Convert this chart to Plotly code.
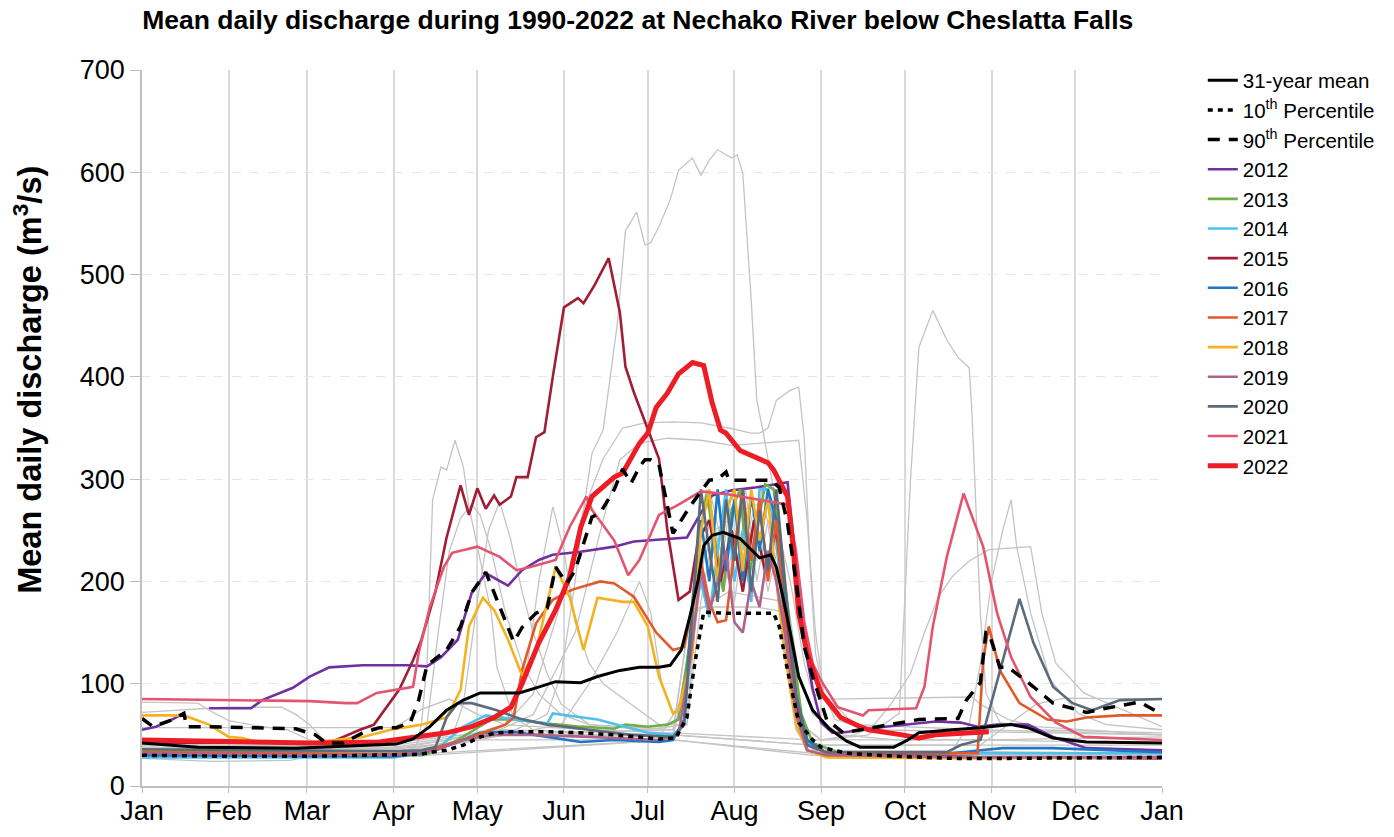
import plotly.graph_objects as go

MONTH_LABELS = ["Jan", "Feb", "Mar", "Apr", "May", "Jun", "Jul", "Aug", "Sep", "Oct", "Nov", "Dec", "Jan"]
MONTH_START_DAY = [0, 31, 59, 90, 120, 151, 181, 212, 243, 273, 304, 334, 365]

# (day of year, discharge m3/s)
MEAN_31YR = [(0,42),(20,38),(55,37),(85,40),(91,41),(97,46),(100,52),(103,58),(109,74),(115,84),(121,91),(131,91),(135,91),(141,96),(148,102),(157,101),(163,107),(171,113),(178,116),(185,116),(189,118),(193,133),(196,165),(199,201),(201,235),(204,245),(208,248),(214,242),(221,223),(225,226),(227,214),(229,189),(232,150),(235,107),(240,74),(246,56),(252,44),(257,38),(269,38),(274,45),(278,52),(290,55),(300,57),(311,60),(317,57),(326,47),(338,43),(365,42)]
P10 = [(0,30),(30,29),(60,29),(90,30),(100,31),(103,33),(109,35),(115,40),(121,48),(127,52),(133,53),(145,53),(157,52),(169,50),(185,46),(191,47),(195,67),(198,123),(201,170),(208,169),(226,169),(228,156),(231,113),(235,62),(240,45),(243,38),(252,32),(270,29),(290,27),(310,27),(340,28),(365,28)]
P90 = [(0,66),(4,58),(10,64),(15,71),(16,58),(23,58),(55,56),(62,50),(66,42),(72,42),(79,52),(85,57),(91,57),(96,62),(99,84),(102,118),(109,133),(114,156),(118,189),(123,209),(126,189),(131,156),(133,141),(136,155),(141,169),(145,174),(148,214),(152,198),(155,211),(157,228),(161,263),(164,267),(169,290),(172,310),(175,296),(178,312),(180,319),(182,319),(185,314),(190,247),(196,273),(203,299),(206,300),(209,307),(210,299),(214,299),(225,299),(228,292),(231,257),(234,201),(237,136),(240,107),(245,65),(251,52),(264,58),(278,65),(292,66),(295,84),(300,101),(302,150),(303,150),(307,116),(310,116),(319,97),(326,81),(338,72),(345,76),(357,82),(365,70)]

Y2012 = [(0,55),(5,58),(10,64),(15,71),(None,None),(24,76),(39,76),(43,84),(54,96),(60,107),(67,116),(79,118),(95,118),(102,117),(107,126),(113,143),(118,189),(123,208),(131,196),(136,211),(142,221),(147,226),(157,229),(169,234),(176,239),(195,243),(200,267),(204,284),(211,289),(220,292),(231,297),(234,220),(237,140),(240,95),(243,62),(247,52),(250,52),(266,58),(284,63),(293,62),(299,58),(306,60),(317,60),(326,48),(338,37),(365,35)]
Y2013 = [(0,35),(30,34),(60,32),(90,30),(100,30),(104,33),(113,45),(125,65),(133,65),(145,61),(157,58),(169,56),(173,60),(181,58),(188,60),(192,65),(196,140),(199,230),(202,285),(205,240),(208,190),(211,270),(214,290),(217,200),(220,250),(223,295),(226,290),(229,230),(232,150),(236,70),(240,42),(250,32),(300,28),(365,28)]
Y2014 = [(0,28),(60,28),(90,28),(105,35),(115,58),(123,69),(131,66),(145,61),(147,71),(152,69),(163,65),(181,52),(190,50),(194,60),(197,160),(200,200),(203,165),(206,230),(209,290),(212,200),(215,250),(218,180),(221,290),(224,290),(227,240),(230,150),(234,70),(238,42),(245,32),(300,32),(365,32)]
Y2015 = [(0,42),(30,42),(60,42),(67,42),(78,55),(83,60),(92,94),(97,123),(100,143),(105,190),(109,243),(114,294),(117,265),(120,291),(123,271),(126,284),(128,275),(132,283),(134,302),(138,302),(141,341),(144,346),(147,400),(151,468),(156,477),(158,472),(162,490),(167,516),(171,463),(173,410),(176,385),(181,348),(185,320),(188,250),(192,182),(196,190),(199,240),(203,260),(207,200),(211,250),(215,190),(219,260),(223,210),(227,250),(230,180),(234,80),(238,45),(245,32),(300,28),(365,27)]
Y2016 = [(0,30),(60,29),(90,29),(100,32),(110,40),(121,52),(133,53),(145,48),(157,43),(169,45),(185,43),(190,45),(194,65),(197,180),(200,260),(203,200),(206,290),(209,210),(212,280),(215,200),(218,285),(221,230),(224,290),(227,260),(230,190),(234,90),(238,45),(245,32),(290,32),(300,35),(308,37),(326,37),(365,33)]
Y2017 = [(0,33),(60,32),(90,31),(100,34),(115,45),(125,55),(130,60),(133,67),(136,113),(141,159),(147,182),(154,192),(164,200),(169,198),(176,185),(184,150),(190,133),(194,136),(197,175),(200,220),(203,180),(206,160),(209,162),(212,230),(215,290),(218,220),(221,280),(224,200),(227,260),(230,160),(234,70),(238,40),(245,32),(299,32),(301,123),(303,156),(307,113),(314,81),(324,65),(331,63),(338,67),(350,69),(365,69)]
Y2018 = [(0,69),(15,69),(24,60),(31,48),(36,47),(40,44),(60,42),(79,48),(89,55),(100,60),(109,67),(114,94),(117,156),(122,184),(126,172),(131,143),(136,108),(141,133),(145,179),(148,214),(153,185),(158,133),(163,184),(172,180),(176,180),(181,156),(185,107),(190,71),(192,74),(197,130),(200,250),(203,290),(206,200),(209,270),(212,290),(215,210),(218,290),(221,240),(224,280),(227,200),(230,130),(234,60),(238,35),(245,28),(300,27),(365,28)]
Y2019 = [(0,32),(60,31),(90,30),(105,35),(115,45),(125,50),(140,50),(160,48),(185,45),(192,50),(196,120),(200,210),(203,170),(206,200),(209,230),(212,160),(215,150),(218,200),(221,175),(224,230),(227,200),(230,150),(234,70),(238,35),(245,30),(300,28),(365,28)]
Y2020 = [(0,36),(60,35),(90,34),(100,35),(105,38),(109,67),(113,81),(118,81),(127,74),(135,66),(145,60),(160,55),(175,50),(190,48),(194,60),(197,170),(200,290),(203,230),(206,180),(209,280),(212,220),(215,290),(218,190),(221,270),(224,210),(227,290),(230,200),(234,90),(238,40),(245,33),(288,33),(293,40),(300,45),(302,62),(308,123),(314,183),(319,140),(326,97),(333,81),(340,74),(350,84),(365,85)]
Y2021 = [(0,85),(30,84),(60,83),(73,81),(77,81),(84,91),(97,97),(99,130),(103,175),(108,214),(111,228),(120,234),(128,224),(134,211),(139,214),(148,221),(153,253),(159,283),(161,270),(169,240),(174,206),(178,221),(185,265),(192,275),(200,288),(210,285),(220,280),(231,275),(234,230),(237,160),(240,120),(243,103),(249,77),(258,69),(260,74),(277,76),(280,97),(283,156),(288,224),(294,286),(301,234),(306,169),(311,126),(318,87),(327,62),(337,48),(365,45)]
Y2022 = [(0,45),(30,43),(60,42),(85,43),(99,48),(109,52),(118,58),(126,67),(132,77),(136,100),(142,140),(148,172),(153,204),(157,253),(161,283),(165,292),(169,302),(172,306),(178,335),(181,345),(184,370),(188,384),(192,403),(197,414),(201,411),(204,375),(207,348),(209,345),(214,328),(224,316),(226,309),(231,283),(233,234),(235,169),(238,130),(243,91),(250,67),(257,58),(260,55),(272,50),(278,47),(284,50),(294,52),(303,53)]

# historical years (grey)
G1 = [(0,35),(60,33),(90,33),(110,40),(130,50),(145,70),(150,110),(155,200),(158,270),(161,325),(165,348),(170,450),(173,543),(177,561),(180,529),(182,531),(185,547),(189,573),(192,602),(197,614),(200,597),(203,612),(206,622),(211,614),(213,617),(215,599),(218,475),(220,377),(222,350),(226,290),(230,200),(235,110),(240,70),(250,50),(270,45),(300,45),(365,42)]
G2 = [(0,40),(90,38),(110,45),(130,60),(140,90),(150,180),(158,270),(165,320),(172,350),(180,355),(190,356),(200,355),(210,350),(218,345),(221,345),(224,350),(227,377),(232,387),(235,390),(237,340),(239,220),(241,130),(244,90),(255,60),(300,55),(365,50)]
G3 = [(0,38),(90,36),(120,45),(140,70),(155,150),(165,260),(171,319),(178,335),(188,340),(200,338),(211,333),(225,336),(235,338),(238,260),(241,150),(244,90),(248,65),(260,55),(365,50)]
G4 = [(0,38),(60,36),(98,38),(100,60),(102,120),(104,280),(107,312),(109,309),(112,338),(115,312),(117,273),(121,221),(125,169),(127,116),(133,67),(140,55),(160,50),(185,48),(195,90),(200,200),(204,280),(208,230),(212,180),(216,260),(220,220),(224,280),(228,260),(232,150),(236,60),(242,35),(300,32),(365,30)]
G5 = [(0,30),(60,30),(95,32),(98,40),(102,60),(106,150),(110,230),(114,262),(118,275),(121,265),(125,230),(130,170),(136,120),(142,90),(150,70),(160,60),(180,55),(195,60),(200,180),(204,240),(208,200),(212,270),(216,210),(220,250),(224,190),(228,240),(232,130),(236,55),(242,32),(365,30)]
G6 = [(0,33),(90,33),(110,40),(115,80),(120,180),(124,250),(128,278),(132,240),(136,190),(140,150),(145,110),(150,80),(160,60),(190,55),(196,100),(200,220),(204,270),(208,190),(212,240),(216,290),(220,200),(224,260),(228,220),(232,120),(236,50),(242,30),(365,30)]
G7 = [(0,36),(90,36),(120,45),(130,60),(138,120),(142,200),(147,273),(151,230),(155,160),(160,120),(165,100),(175,80),(185,60),(195,60),(199,200),(203,260),(207,210),(211,285),(215,230),(219,270),(223,200),(227,275),(231,170),(235,70),(240,35),(365,32)]
G8 = [(0,32),(90,32),(130,50),(150,60),(160,100),(170,150),(178,200),(182,170),(186,100),(190,70),(194,90),(198,220),(202,290),(206,240),(210,200),(214,280),(218,240),(222,290),(226,220),(230,130),(234,55),(240,30),(365,30)]
G9 = [(0,34),(90,34),(130,50),(190,50),(196,170),(200,175),(220,175),(230,170),(236,60),(243,45),(260,50),(271,71),(275,299),(278,429),(283,465),(288,436),(292,419),(296,409),(297,365),(300,169),(302,91),(307,62),(320,55),(365,52)]
G10 = [(0,30),(90,30),(190,45),(198,170),(210,190),(230,180),(236,60),(243,45),(255,50),(262,60),(268,80),(275,110),(280,150),(285,185),(290,205),(296,220),(303,231),(318,234),(322,169),(327,120),(337,91),(365,58)]
G11 = [(0,28),(90,28),(190,45),(240,32),(290,35),(296,60),(300,120),(304,200),(308,250),(311,280),(313,234),(318,169),(325,104),(335,71),(345,60),(365,55)]
G12 = [(0,40),(30,39),(90,40),(120,50),(190,55),(198,200),(205,250),(215,270),(225,280),(232,200),(237,120),(240,90),(245,85),(297,87),(300,80),(310,65),(320,58),(365,50)]
G13 = [(0,82),(20,81),(24,74),(31,64),(43,58),(52,55),(60,45),(67,38),(90,36),(120,50),(190,50),(240,40),(300,40),(310,60),(320,80),(330,86),(365,85)]
G14 = [(0,72),(30,77),(50,77),(55,70),(60,60),(65,45),(75,40),(90,42),(130,55),(190,50),(240,40),(365,40)]
G15 = [(0,57),(90,57),(95,65),(100,75),(110,85),(120,70),(130,60),(160,55),(190,52),(240,45),(300,45),(365,48)]
G16 = [(0,27),(25,24),(53,25),(62,30),(90,30),(120,45),(190,45),(240,30),(365,30)]
GREY_YEARS = [G1, G2, G3, G4, G5, G6, G7, G8, G9, G10, G11, G12, G13, G14, G15, G16]

YEAR_SERIES = [("2012", Y2012), ("2013", Y2013), ("2014", Y2014), ("2015", Y2015), ("2016", Y2016),
               ("2017", Y2017), ("2018", Y2018), ("2019", Y2019), ("2020", Y2020), ("2021", Y2021),
               ("2022", Y2022)]
YEAR_COLORS = {"2012": "#7030A0", "2013": "#70AD47", "2014": "#4FC1EC", "2015": "#A01D35",
               "2016": "#1F77C4", "2017": "#E2592A", "2018": "#F2B221", "2019": "#B0628A",
               "2020": "#5D6A7B", "2021": "#E4546F", "2022": "#EE1C25"}

def xs(s):
    return [p[0] for p in s]

def ys(s):
    return [p[1] for p in s]

fig = go.Figure()
FONT = "Liberation Sans, Arial, sans-serif"

for g in GREY_YEARS:
    fig.add_trace(go.Scatter(x=xs(g), y=ys(g), mode="lines", showlegend=False, hoverinfo="skip",
                             line=dict(color="#C4C4C4", width=1.3)))

rank = 4
for name, s in YEAR_SERIES:
    w = 5 if name == "2022" else 2.6
    fig.add_trace(go.Scatter(x=xs(s), y=ys(s), mode="lines", name=name, legendrank=rank,
                             line=dict(color=YEAR_COLORS[name], width=w)))
    rank += 1

fig.add_trace(go.Scatter(x=xs(MEAN_31YR), y=ys(MEAN_31YR), mode="lines", name="31-year mean",
                         legendrank=1, line=dict(color="black", width=3)))
fig.add_trace(go.Scatter(x=xs(P10), y=ys(P10), mode="lines", name="10<sup>th</sup> Percentile",
                         legendrank=2, line=dict(color="black", width=3.5, dash="5px,5px")))
fig.add_trace(go.Scatter(x=xs(P90), y=ys(P90), mode="lines", name="90<sup>th</sup> Percentile",
                         legendrank=3, line=dict(color="black", width=3.5, dash="12px,9px")))

fig.update_layout(
    width=1394, height=837,
    margin=dict(l=142, r=232, t=70, b=51),
    paper_bgcolor="white", plot_bgcolor="white",
    font=dict(family=FONT, color="black"),
    title=dict(text="<b>Mean daily discharge during 1990-2022 at Nechako River below Cheslatta Falls</b>",
               x=0.486, xref="paper", xanchor="center", y=0.976, yanchor="middle",
               font=dict(size=26.5, family=FONT)),
    legend=dict(x=1.040, y=1.0134, xanchor="left", yanchor="top", font=dict(size=20.5, family=FONT),
                bgcolor="rgba(0,0,0,0)", itemwidth=30, tracegroupgap=0, maxheight=700),
    showlegend=True,
    annotations=[dict(text="<b>Mean daily discharge (m<sup>3</sup>/s)</b>", textangle=-90,
                      xref="paper", yref="paper", x=-0.112, y=0.567, xanchor="center", yanchor="middle",
                      showarrow=False, font=dict(size=32.5, family=FONT))],
)
fig.update_xaxes(range=[0, 365], tickvals=MONTH_START_DAY, ticktext=MONTH_LABELS,
                 showgrid=True, gridcolor="#DADADA", gridwidth=1.5,
                 showline=True, linecolor="#BFBFBF", linewidth=1.5,
                 ticks="outside", tickcolor="#BFBFBF", ticklen=5, ticklabelstandoff=-5,
                 tickfont=dict(size=27, family=FONT), zeroline=False, automargin=False)
fig.update_yaxes(range=[0, 700], tickvals=[0, 100, 200, 300, 400, 500, 600, 700],
                 showgrid=True, gridcolor="#E6E6E6", griddash="dash", gridwidth=1,
                 showline=True, linecolor="#BFBFBF", linewidth=1.5,
                 ticks="outside", tickcolor="#BFBFBF", ticklen=10,
                 tickfont=dict(size=27, family=FONT), zeroline=False, automargin=False)

fig.write_html("out.html", config={"displayModeBar": False},
               post_script="document.body.style.margin='0px';")
